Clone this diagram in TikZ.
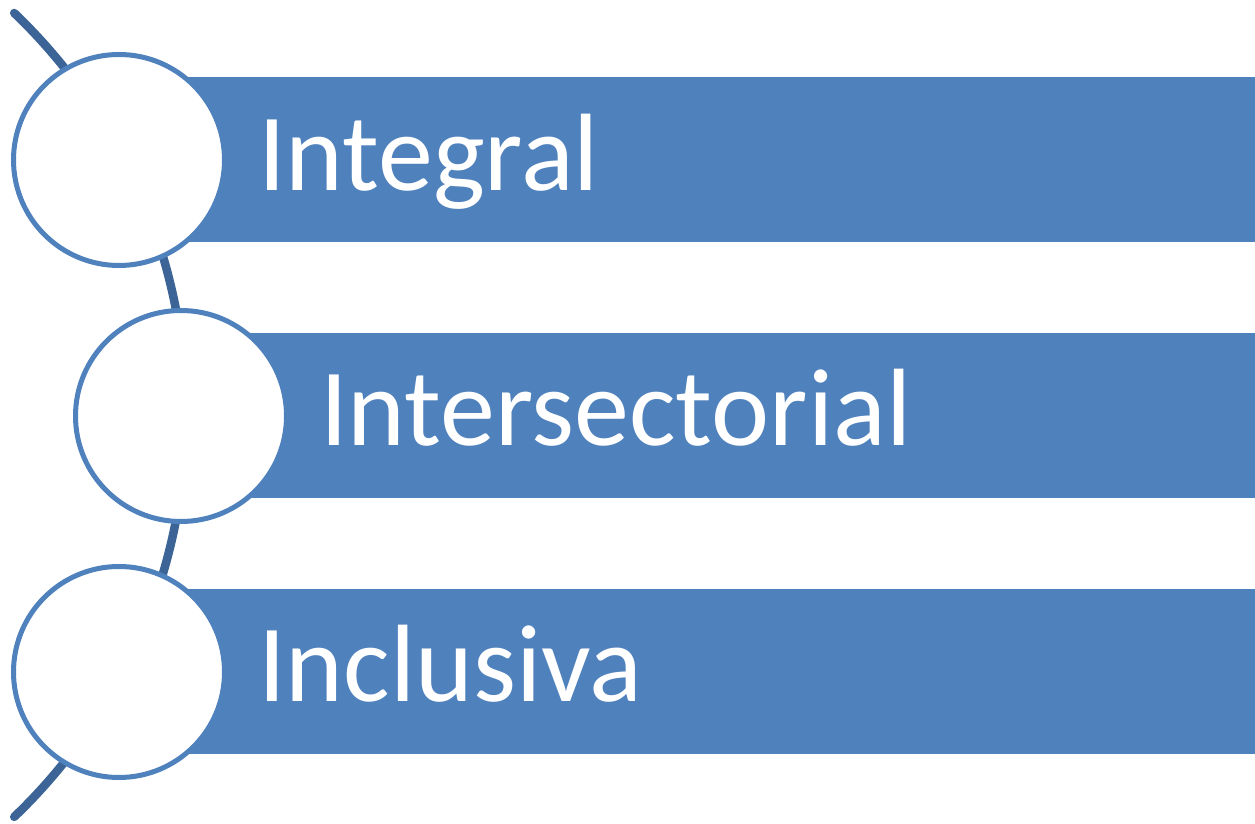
\documentclass[tikz,border=0pt]{standalone}
\usepackage{fontspec}
\setmainfont{Carlito}
\usepackage{xcolor}
\usepackage{tikz}
\usetikzlibrary{positioning}
\definecolor{barblue}{HTML}{4F81BD}
\definecolor{arcblue}{HTML}{3C6496}
\tikzstyle{bar} = [rectangle, fill=barblue, draw=none, anchor=west, minimum width=1136pt, minimum height=165pt, inner sep=0pt]
\tikzstyle{dot} = [circle, minimum size=211pt, inner sep=0pt, draw=barblue, line width=5pt, fill=white]
\tikzstyle{word} = [anchor=base west, inner sep=0pt, text=white, font=\fontsize{110}{132}\selectfont]
\tikzstyle{spine} = [line width=8.5pt, arcblue, line cap=round]

\begin{document}
\begin{tikzpicture}[x=1pt, y=1pt]
    \useasboundingbox (0,0) rectangle (1255,824);
    % Curve behind the circles
    \coordinate (spine_top) at (14.2,811);
    \draw [spine] (spine_top) arc[start angle=46.3, end angle=-46.3, radius=556pt];
    % Bars
    \node (bar_integral) [bar] at (119,664.5) {};
    \node (bar_inter) [bar] at (181,408.5) {};
    \node (bar_incl) [bar] at (119,152.5) {};
    % Circles
    \node (c_integral) [dot] at (119,664) {};
    \node (c_inter) [dot] at (181,408) {};
    \node (c_incl) [dot] at (119,152) {};
    % Labels
    \node (t_integral) [word] at ([xshift=31pt, yshift=-31pt]c_integral.east) {Integral};
    \node (t_inter) [word] at ([xshift=31pt, yshift=-30pt]c_inter.east) {Intersectorial};
    \node (t_incl) [word] at ([xshift=31pt, yshift=-30pt]c_incl.east) {Inclusiva};
\end{tikzpicture}
\end{document}
